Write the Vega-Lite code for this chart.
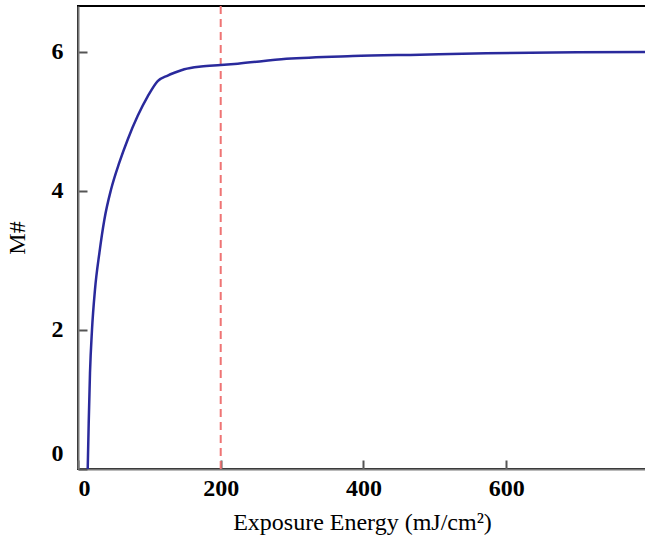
{
  "$schema": "https://vega.github.io/schema/vega-lite/v6.json",
  "autosize": "none",
  "width": 568,
  "height": 463,
  "padding": {"left": 78, "top": 6, "right": 0, "bottom": 75},
  "background": "white",
  "config": {
    "view": {"stroke": "black", "strokeWidth": 2},
    "axis": {
      "grid": false,
      "zindex": 1,
      "ticks": true,
      "domainColor": "#777777",
      "domainWidth": 2,
      "tickColor": "#555555",
      "tickWidth": 2,
      "tickSize": -9,
      "labelFont": "Liberation Serif",
      "labelFontWeight": "bold",
      "labelFontSize": 24,
      "labelColor": "black",
      "titleFont": "Liberation Serif",
      "titleFontWeight": "normal",
      "titleFontSize": 24,
      "titleColor": "black"
    }
  },
  "datasets": {
    "curve": [
      {"energy": 13.6, "m": 0.0},
      {"energy": 15, "m": 0.66},
      {"energy": 16.8, "m": 1.38},
      {"energy": 19.6, "m": 2.0},
      {"energy": 23.8, "m": 2.58},
      {"energy": 30, "m": 3.11},
      {"energy": 37, "m": 3.59},
      {"energy": 46.3, "m": 4.02},
      {"energy": 58, "m": 4.41},
      {"energy": 69.7, "m": 4.74},
      {"energy": 83.7, "m": 5.08},
      {"energy": 97.7, "m": 5.36},
      {"energy": 111.7, "m": 5.58},
      {"energy": 125.7, "m": 5.66},
      {"energy": 135, "m": 5.7},
      {"energy": 149, "m": 5.75},
      {"energy": 172.5, "m": 5.79},
      {"energy": 200, "m": 5.81},
      {"energy": 223.8, "m": 5.83},
      {"energy": 292, "m": 5.9},
      {"energy": 385, "m": 5.94},
      {"energy": 479, "m": 5.96},
      {"energy": 572, "m": 5.98},
      {"energy": 666, "m": 5.99},
      {"energy": 796, "m": 6.0}
    ],
    "marker": [{"energy": 200}]
  },
  "layer": [
    {
      "data": {"name": "marker"},
      "mark": {"type": "rule", "color": "#ef7474", "strokeWidth": 2, "strokeDash": [8, 5]},
      "encoding": {
        "x": {"field": "energy", "type": "quantitative", "scale": {"domain": [0, 796], "nice": false, "zero": false}}
      }
    },
    {
      "data": {"name": "curve"},
      "mark": {"type": "line", "color": "#2a2a9c", "strokeWidth": 2.5, "interpolate": "monotone", "clip": true},
      "encoding": {
        "x": {
          "field": "energy", "type": "quantitative",
          "scale": {"domain": [0, 796], "nice": false, "zero": false},
          "axis": {"values": [0, 200, 400, 600], "title": "Exposure Energy (mJ/cm²)", "labelPadding": 16, "titlePadding": 10, "labelFlush": true}
        },
        "y": {
          "field": "m", "type": "quantitative",
          "scale": {"domain": [0, 6.66], "nice": false},
          "axis": {"values": [0, 2, 4, 6], "title": "M#", "labelPadding": 24, "titlePadding": 22, "labelFlush": true, "labelFlushOffset": -4}
        }
      }
    }
  ]
}
